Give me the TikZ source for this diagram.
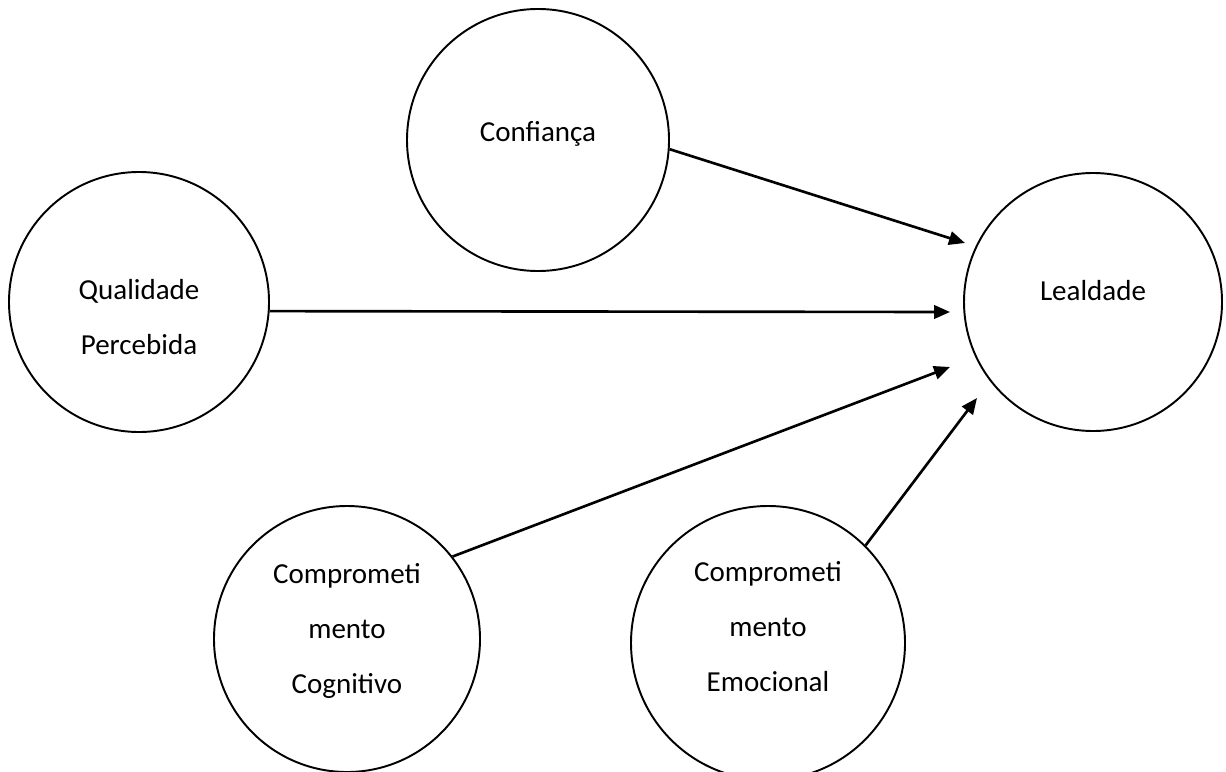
\documentclass[tikz,border=0pt]{standalone}
\usepackage{fontspec}
\setmainfont{Carlito}
\usetikzlibrary{arrows.meta,positioning}

\begin{document}
\begin{tikzpicture}[
                font=\fontsize{16.5}{31.3}\selectfont,
                construto/.style={circle, draw=black, line width=1.1pt, inner sep=0pt},
                rotulo/.style={align=center, inner sep=0pt},
                efeito/.style={-{Triangle[length=3.2mm,width=2.7mm]}, line width=1.5pt},
            ]
            \useasboundingbox (0,0) rectangle (24.52,-15.42);
            % construtos
            \node[construto, minimum size=5.24cm] (confianca) at (10.76,-2.80) {};
            \node[construto, minimum size=5.20cm] (qualidade) at (2.78,-6.04) {};
            \node[construto, minimum size=5.16cm] (lealdade) at (21.86,-6.04) {};
            \node[construto, minimum size=5.32cm] (cognitivo) at (6.94,-12.78) {};
            \node[construto, minimum size=5.48cm] (emocional) at (15.36,-12.86) {};

            \node[rotulo] (confiancaTxt) at (10.76,-2.68) {Confiança};
            \node[rotulo] (qualidadeTxt) at (2.78,-6.34) {Qualidade\\Percebida};
            \node[rotulo] (lealdadeTxt) at (21.86,-5.82) {Lealdade};
            \node[rotulo] (cognitivoTxt) at (6.94,-12.62) {Comprometi\\mento\\Cognitivo};
            \node[rotulo] (emocionalTxt) at (15.36,-12.54) {Comprometi\\mento\\Emocional};

            \coordinate (tipConf) at (19.30,-4.86);
            \coordinate (tipQual) at (19.00,-6.24);
            \coordinate (tipCog) at (19.00,-7.34);
            \coordinate (tipEmo) at (19.54,-7.96);

            \draw[efeito] (confianca.-4) -- (tipConf);
            \draw[efeito] (qualidade.-4) -- (tipQual);
            \draw[efeito] (cognitivo.38) -- (tipCog);
            \draw[efeito] (emocional.45) -- (tipEmo);
        \end{tikzpicture}
\end{document}
